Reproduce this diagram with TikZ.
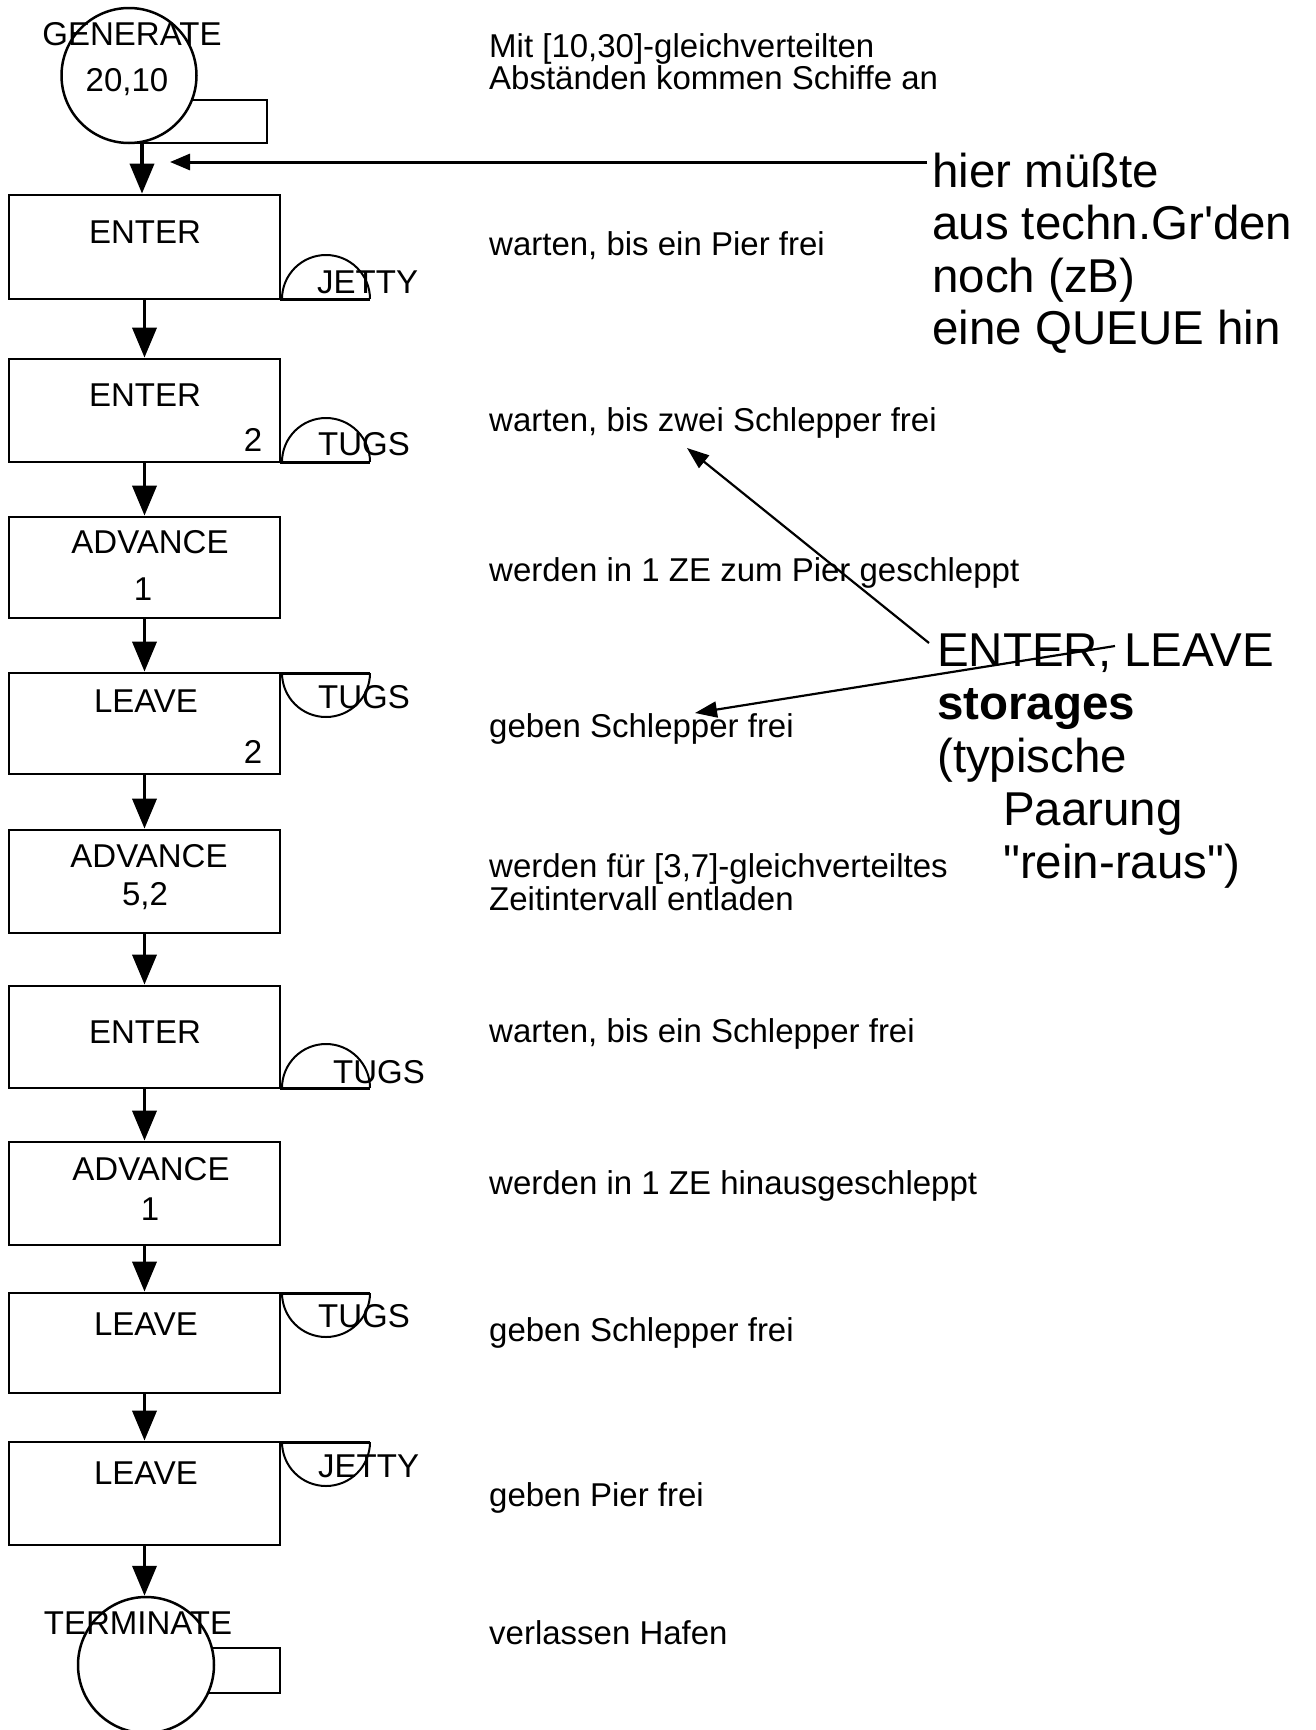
\documentclass[tikz,border=0pt]{standalone}
\usepackage{fontspec}
\newfontfamily\lib{Liberation Sans}
\usetikzlibrary{arrows.meta}
\begin{document}
\begin{tikzpicture}[x=1pt,y=-1pt,
  box/.style={draw, line width=2.8pt, minimum width=271pt, inner sep=0pt},
  circ/.style={draw, circle, line width=2.5pt, inner sep=0pt},
  lbl/.style={font=\lib\fontsize{33}{33}\selectfont, inner sep=0pt},
  desc/.style={font=\lib\fontsize{33}{33}\selectfont, inner sep=0pt, anchor=base west},
  big/.style={font=\lib\fontsize{47.5}{52}\selectfont, inner sep=0pt, anchor=base west},
  flow/.style={line width=3.8pt, -{Triangle[width=24pt,length=30pt]}},
  note/.style={line width=2.2pt, -{Triangle[width=16pt,length=22pt]}},
  stor/.style={line width=2pt},
  storbase/.style={line width=3pt}]
\useasboundingbox (0,0) rectangle (1316,1730);

% ---------- GENERATE ----------
\node[circ, minimum size=135pt] (gen) at (129,75.5) {};
\draw[line width=2.8pt] (192,100) -- (267,100) -- (267,143) -- (129,143);
\node[lbl, anchor=base] (gent) at (132,45) {GENERATE};
\node[lbl, anchor=base] (genp) at (127,91) {20,10};

% ---------- boxes ----------
\node[box, minimum height=104pt] (b1) at (144.5,247) {};
\node[box, minimum height=103pt] (b2) at (144.5,410.5) {};
\node[box, minimum height=101pt] (b3) at (144.5,567.5) {};
\node[box, minimum height=101pt] (b4) at (144.5,723.5) {};
\node[box, minimum height=103pt] (b5) at (144.5,881.5) {};
\node[box, minimum height=102pt] (b6) at (144.5,1037) {};
\node[box, minimum height=103pt] (b7) at (144.5,1193.5) {};
\node[box, minimum height=100pt] (b8) at (144.5,1343) {};
\node[box, minimum height=103pt] (b9) at (144.5,1493.5) {};

\node[lbl, anchor=base] (t1) at (145,243) {ENTER};
\node[lbl, anchor=base] (t2) at (145,406) {ENTER};
\node[lbl, anchor=base] (t2n) at (253,451) {2};
\node[lbl, anchor=base] (t3) at (150,553) {ADVANCE};
\node[lbl, anchor=base] (t3n) at (143,600) {1};
\node[lbl, anchor=base] (t4) at (146,712) {LEAVE};
\node[lbl, anchor=base] (t4n) at (253,763) {2};
\node[lbl, anchor=base] (t5) at (149,867) {ADVANCE};
\node[lbl, anchor=base] (t5n) at (145,905) {5,2};
\node[lbl, anchor=base] (t6) at (145,1043) {ENTER};
\node[lbl, anchor=base] (t7) at (151,1180) {ADVANCE};
\node[lbl, anchor=base] (t7n) at (150,1220) {1};
\node[lbl, anchor=base] (t8) at (146,1335) {LEAVE};
\node[lbl, anchor=base] (t9) at (146,1484) {LEAVE};

% ---------- storages ----------
% ENTER JETTY
\draw[storbase] (280,299) -- (370,299);
\draw[stor] (282,299) arc[start angle=180,end angle=0,radius=44pt];
\node[lbl, anchor=base west] (s1) at (317,293) {JETTY};
% ENTER TUGS
\draw[storbase] (280,462) -- (370,462);
\draw[stor] (282,462) arc[start angle=180,end angle=0,radius=44pt];
\node[lbl, anchor=base west] (s2) at (318,455) {TUGS};
% LEAVE TUGS
\draw[storbase] (280,673) -- (370,673);
\draw[stor] (282,673) arc[start angle=180,end angle=360,radius=44pt];
\node[lbl, anchor=base west] (s4) at (318,708) {TUGS};
% ENTER TUGS
\draw[storbase] (280,1088) -- (370,1088);
\draw[stor] (282,1088) arc[start angle=180,end angle=0,radius=44pt];
\node[lbl, anchor=base west] (s6) at (333,1083) {TUGS};
% LEAVE TUGS
\draw[storbase] (280,1293) -- (370,1293);
\draw[stor] (282,1293) arc[start angle=180,end angle=360,radius=44pt];
\node[lbl, anchor=base west] (s8) at (318,1327) {TUGS};
% LEAVE JETTY
\draw[storbase] (280,1442) -- (370,1442);
\draw[stor] (282,1442) arc[start angle=180,end angle=360,radius=44pt];
\node[lbl, anchor=base west] (s9) at (318,1477) {JETTY};

% ---------- TERMINATE ----------
\node[circ, minimum size=136pt] (term) at (146,1665) {};
\draw[line width=2.8pt] (212,1648) -- (280,1648) -- (280,1693) -- (208,1693);
\node[lbl, anchor=base] (termt) at (138,1634) {TERMINATE};

% ---------- flow arrows ----------
\coordinate (g0) at (142,143);
\draw[flow] (g0) -- (g0 |- b1.north);
\draw[flow] (b1.south) -- (b2.north);
\draw[flow] (b2.south) -- (b3.north);
\draw[flow] (b3.south) -- (b4.north);
\draw[flow] (b4.south) -- (b5.north);
\draw[flow] (b5.south) -- (b6.north);
\draw[flow] (b6.south) -- (b7.north);
\draw[flow] (b7.south) -- (b8.north);
\draw[flow] (b8.south) -- (b9.north);
\draw[flow] (b9.south) -- (b9.south |- term.north);

% ---------- descriptions ----------
\node[desc] (d1a) at (489,57) {Mit [10,30]-gleichverteilten};
\node[desc] (d1b) at (489,89) {Abständen kommen Schiffe an};
\node[desc] (d2) at (489,255) {warten, bis ein Pier frei};
\node[desc] (d3) at (489,431) {warten, bis zwei Schlepper frei};
\node[desc] (d4) at (489,581) {werden in 1 ZE zum Pier geschleppt};
\node[desc] (d5) at (489,737) {geben Schlepper frei};
\node[desc] (d6a) at (489,877) {werden für [3,7]-gleichverteiltes};
\node[desc] (d6b) at (489,910) {Zeitintervall entladen};
\node[desc] (d7) at (489,1042) {warten, bis ein Schlepper frei};
\node[desc] (d8) at (489,1194) {werden in 1 ZE hinausgeschleppt};
\node[desc] (d9) at (489,1341) {geben Schlepper frei};
\node[desc] (d10) at (489,1506) {geben Pier frei};
\node[desc] (d11) at (489,1644) {verlassen Hafen};

% ---------- big notes ----------
\node[big] (q1) at (932,187) {hier müßte};
\node[big] (q2) at (932,239) {aus techn.Gr'den};
\node[big] (q3) at (932,292) {noch (zB)};
\node[big] (q4) at (932,344) {eine QUEUE hin};

\node[big] (e1) at (937,666) {ENTER, LEAVE};
\node[big, font=\lib\bfseries\fontsize{47.5}{52}\selectfont] (e2) at (937,719) {storages};
\node[big] (e3) at (937,772) {(typische};
\node[big] (e4) at (1003,825) {Paarung};
\node[big] (e5) at (1003,878) {"rein-raus")};

% ---------- annotation arrows ----------
\coordinate (h0) at (927,162);
\coordinate (h1) at (170,162);
\draw[line width=3pt, -{Triangle[width=16pt,length=20pt]}] (h0) -- (h1);
\coordinate (n1s) at (929,643);
\coordinate (n1e) at (687,448);
\draw[note] (n1s) -- (n1e);
\coordinate (n2s) at (1115,646);
\coordinate (n2e) at (695,713);
\draw[note] (n2s) -- (n2e);
\end{tikzpicture}
\end{document}
